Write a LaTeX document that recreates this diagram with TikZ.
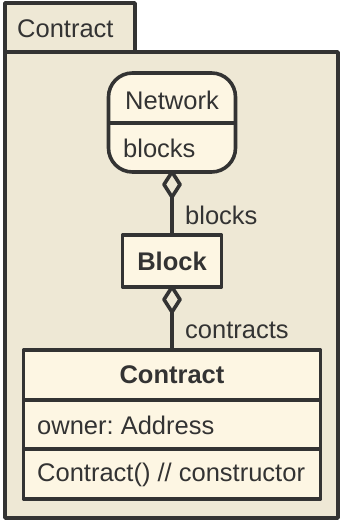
\documentclass[tikz,border=0pt]{standalone}
\usepackage{fontspec}
\setmainfont{Liberation Sans}
\frenchspacing
\definecolor{pkgfill}{HTML}{EEE8D5}
\definecolor{boxfill}{HTML}{FDF6E3}
\definecolor{ink}{HTML}{333333}
\tikzset{
  umlline/.style={draw=ink, line width=3.6pt},
  classbox/.style={umlline, fill=boxfill, inner sep=0pt, outer sep=0pt, minimum width=#1},
  txt/.style={text=ink, inner sep=0pt, font=\fontsize{25.5}{30}\selectfont},
  btxt/.style={txt, font=\fontsize{25.5}{30}\selectfont\bfseries},
}
% hollow aggregation diamond hanging below a node anchor
\newcommand\aggdiamond[2]{%
  \draw[umlline, fill=pkgfill] (#1) -- ++(8,12.5) coordinate (#2a) -- ++(-8,12.5) coordinate (#2) -- ++(-8,-12.5) -- cycle;}
\begin{document}
\begin{tikzpicture}[x=1pt, y=-1pt, line join=round]
\useasboundingbox (0,0) rectangle (340,521);
% package frame with its tab
\draw[umlline, fill=pkgfill] (5,52) -- (5,3) -- (135,3) -- (135,52) -- cycle;
\draw[umlline, fill=pkgfill] (5,52) rectangle (338,518);
\node[txt, anchor=west] (pkgname) at (17,28.5) {Contract};

% Network (rounded class with one attribute row)
\node[classbox=127pt, minimum height=99pt, rounded corners=24pt, outer sep=0pt] (net) at (172,122.5) {};
\draw[umlline] (net.west |- 0,123) -- (net.east |- 0,123);
\node[txt] (nettitle) at (172,100) {Network};
\node[txt, anchor=west] (netattr) at (123,148.5) {blocks};

% Block
\node[classbox=99pt, minimum height=52pt] (block) at (172,261) {};
\node[btxt] (blocktitle) at (172,261) {Block};

% Contract class with attribute and operation rows
\node[classbox=297pt, minimum height=149pt] (contract) at (172,424.5) {};
\draw[umlline] (contract.west |- 0,400) -- (contract.east |- 0,400);
\draw[umlline] (contract.west |- 0,449) -- (contract.east |- 0,449);
\node[btxt] (ctitle) at (172,375) {Contract};
\node[txt, anchor=west] (cattr) at (37,425) {owner: Address};
\node[txt, anchor=west] (cop) at (37,475) {Contract() // constructor};

% aggregations
\aggdiamond{net.south}{d1}
\draw[umlline] (d1) -- (block.north);
\aggdiamond{block.south}{d2}
\draw[umlline] (d2) -- (contract.north);
\node[txt, anchor=west] (lblocks) at (185,215) {blocks};
\node[txt, anchor=west] (lcontracts) at (185,330) {contracts};
\end{tikzpicture}
\end{document}
